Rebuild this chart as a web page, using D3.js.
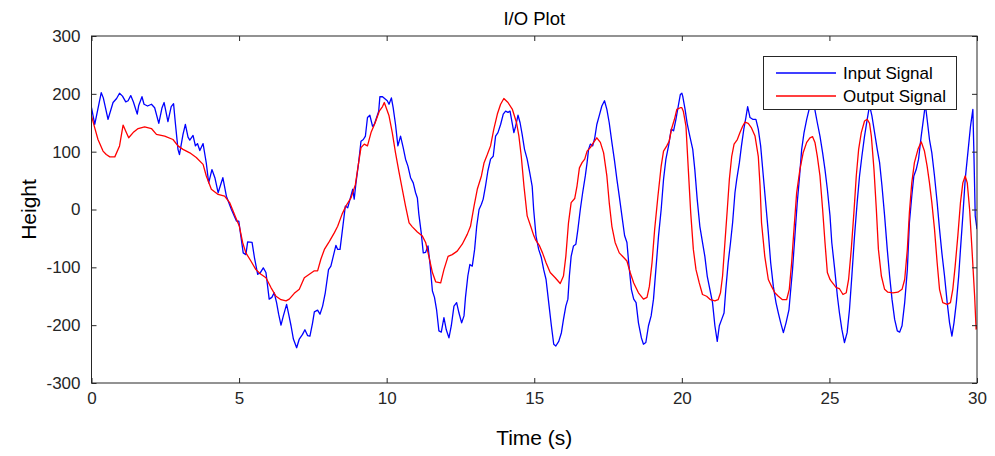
<!DOCTYPE html>
<html>
<head>
<meta charset="utf-8">
<script src="https://cdn.jsdelivr.net/npm/d3@7"></script>
<style>
  html, body { margin: 0; padding: 0; background: #fff; }
  svg { display: block; }
  text { font-family: "Liberation Sans", Arial, Helvetica, sans-serif; }
</style>
</head>
<body>
<svg id="chart" width="995" height="456"></svg>
<script>
// ---------------- data ----------------
const title = "I/O Plot";
const xLabel = "Time (s)";
const yLabel = "Height";
const xTicks = [0, 5, 10, 15, 20, 25, 30];
const yTicks = [-300, -200, -100, 0, 100, 200, 300];
const seriesNames = ["Input Signal", "Output Signal"];

const inputTime = [
0.00,0.11,0.33,0.40,0.56,0.73,0.85,0.95,1.05,1.16,1.24,1.33,1.42,1.55,1.60,1.71,1.78,1.90,2.03,2.14,2.28,2.39,2.46,2.59,2.70,2.78,2.84,2.93,2.98,3.10,3.18,3.27,3.33,3.44,3.52,3.59,3.67,3.78,3.89,3.97,4.08,4.18,4.29,4.45,4.57,4.74,4.91,
4.99,5.06,5.14,5.23,5.29,5.44,5.52,5.63,5.71,5.82,5.91,6.02,6.11,6.19,6.27,6.34,6.42,6.50,6.61,6.68,6.76,6.84,6.95,7.04,7.15,7.23,7.32,7.40,7.49,7.55,7.66,7.74,7.83,7.92,8.03,8.11,8.19,8.28,8.34,8.42,8.49,8.60,8.68,8.76,8.85,8.90,8.96,9.05,9.13,9.21,9.28,9.35,9.43,9.52,9.58,9.64,9.73,9.77,9.86,9.95,
10.02,10.08,10.16,10.22,10.30,10.38,10.47,10.56,10.64,10.72,10.81,10.90,10.98,11.04,11.09,11.17,11.24,11.32,11.40,11.47,11.55,11.62,11.69,11.77,11.85,11.94,12.02,12.11,12.19,12.28,12.37,12.45,12.54,12.62,12.67,12.75,12.82,12.90,12.98,13.05,13.13,13.21,13.27,13.35,13.43,13.52,13.61,13.69,13.77,13.86,13.95,14.03,14.11,14.18,14.26,14.31,14.37,14.45,14.52,14.59,14.67,14.76,14.85,14.93,
14.98,15.06,15.15,15.24,15.32,15.40,15.49,15.58,15.66,15.73,15.83,15.92,15.99,16.07,16.14,16.19,16.25,16.33,16.41,16.48,16.56,16.64,16.73,16.79,16.84,16.90,16.98,17.05,17.12,17.20,17.29,17.38,17.46,17.54,17.63,17.72,17.80,17.88,17.97,18.06,18.14,18.20,18.29,18.37,18.45,18.53,18.63,18.70,18.78,18.87,18.96,19.04,19.12,19.21,19.30,19.38,19.46,19.55,19.64,19.72,19.80,19.87,19.95,20.00,
20.03,20.11,20.18,20.27,20.37,20.44,20.52,20.61,20.70,20.78,20.86,20.95,21.04,21.12,21.20,21.27,21.35,21.43,21.49,21.57,21.65,21.72,21.80,21.86,21.95,22.02,22.10,22.17,22.23,22.31,22.40,22.51,22.59,22.67,22.76,22.85,22.93,23.01,23.10,23.19,23.27,23.35,23.44,23.53,23.63,23.68,23.75,23.83,23.91,23.98,24.06,24.14,24.23,24.32,24.40,24.51,24.59,24.68,24.77,24.85,24.93,25.02,
25.08,25.18,25.27,25.34,25.42,25.51,25.60,25.68,25.76,25.85,25.94,26.02,26.10,26.19,26.28,26.36,26.44,26.53,26.62,26.70,26.78,26.87,26.96,27.04,27.12,27.21,27.30,27.38,27.46,27.55,27.64,27.71,27.79,27.86,27.94,28.02,28.11,28.20,28.25,28.31,28.39,28.47,28.56,28.65,28.73,28.81,28.90,28.99,29.07,29.15,29.22,29.30,29.38,29.44,29.52,29.60,29.69,29.78,29.86,29.89,29.94,30.00
];
const inputValue = [
176,147,202,193,156,185,192,201,196,186,188,197,186,165,180,195,182,179,182,176,149,176,185,152,178,183,150,104,95,130,147,125,120,128,110,114,102,114,80,46,69,55,29,55,23,0,-20,
-20,-46,-75,-78,-56,-57,-83,-112,-110,-101,-109,-155,-152,-144,-161,-181,-200,-184,-164,-181,-201,-224,-239,-224,-216,-208,-218,-219,-196,-177,-174,-181,-167,-144,-104,-98,-81,-62,-69,-69,-40,6,3,18,35,18,46,81,118,121,127,159,163,144,147,156,170,195,195,191,
188,182,193,176,147,110,127,107,87,75,55,46,29,20,-8,-40,-75,-74,-63,-95,-141,-152,-173,-210,-212,-187,-208,-222,-201,-167,-161,-179,-196,-184,-152,-115,-95,-98,-69,-29,0,9,18,41,67,87,92,127,133,147,165,170,168,170,147,133,144,163,150,130,104,87,63,40,
0,-46,-69,-83,-104,-121,-161,-201,-233,-236,-228,-213,-190,-167,-155,-115,-81,-63,-60,-34,0,29,58,81,104,113,110,124,147,162,179,188,173,150,116,84,52,23,-11,-45,-57,-92,-138,-155,-161,-196,-222,-233,-230,-201,-184,-155,-104,-46,0,52,87,110,139,136,156,176,199,201,
196,173,149,127,104,69,18,-29,-57,-81,-115,-138,-161,-201,-228,-201,-190,-179,-138,-92,-57,-23,29,52,81,110,139,159,178,159,156,156,139,110,58,6,-40,-92,-133,-161,-179,-196,-213,-196,-173,-144,-104,-46,12,52,104,133,156,175,182,172,150,127,98,69,35,-11,
-57,-104,-150,-179,-207,-230,-213,-173,-115,-46,12,58,92,127,156,180,162,133,104,81,41,-11,-69,-115,-155,-190,-210,-212,-201,-161,-104,-23,23,58,69,87,127,162,182,156,121,98,58,12,-34,-75,-115,-161,-196,-219,-196,-161,-115,-69,-11,52,98,144,173,110,-11,-34
];

const outputTime = [
0.00,0.11,0.22,0.39,0.50,0.62,0.79,0.95,1.07,1.18,1.26,1.41,1.58,1.80,2.03,2.20,2.48,2.76,2.93,3.10,3.33,3.55,3.78,3.89,4.06,4.29,4.51,4.68,4.91,
5.01,5.12,5.23,5.40,5.57,5.74,5.91,6.08,6.25,6.42,6.59,6.70,6.87,7.04,7.21,7.38,7.55,7.66,7.77,7.89,8.06,8.23,8.34,8.49,8.62,8.79,8.94,9.05,9.13,9.24,9.35,9.47,9.61,9.75,9.86,9.92,
10.08,10.19,10.30,10.42,10.53,10.64,10.76,10.87,11.04,11.21,11.32,11.43,11.55,11.66,11.83,11.94,12.08,12.22,12.39,12.56,12.73,12.84,12.96,13.07,13.21,13.30,13.41,13.52,13.63,13.75,13.86,13.97,14.11,14.26,14.40,14.48,14.56,14.65,14.76,14.88,14.99,
15.04,15.17,15.28,15.40,15.54,15.71,15.88,15.99,16.07,16.16,16.25,16.37,16.45,16.53,16.62,16.71,16.79,16.90,17.01,17.12,17.24,17.35,17.46,17.54,17.63,17.74,17.88,18.03,18.14,18.25,18.37,18.53,18.70,18.82,18.90,18.99,19.08,19.19,19.30,19.38,19.49,19.57,19.66,19.75,19.83,19.95,20.00,
20.05,20.14,20.22,20.30,20.39,20.48,20.59,20.70,20.84,20.97,21.12,21.23,21.31,21.38,21.46,21.54,21.61,21.69,21.77,21.88,21.97,22.06,22.14,22.25,22.36,22.48,22.59,22.65,22.70,22.81,22.93,23.04,23.15,23.27,23.41,23.55,23.64,23.72,23.80,23.89,24.00,24.11,24.23,24.34,24.43,24.51,24.59,24.68,24.77,24.85,24.93,25.02,
25.06,25.23,25.34,25.46,25.57,25.65,25.74,25.83,25.91,25.99,26.08,26.19,26.28,26.36,26.42,26.51,26.59,26.66,26.76,26.87,26.98,27.15,27.32,27.46,27.55,27.64,27.71,27.79,27.88,28.00,28.11,28.22,28.31,28.39,28.47,28.56,28.65,28.73,28.84,28.99,29.10,29.18,29.26,29.35,29.44,29.52,29.60,29.67,29.75,29.83,29.92,29.97,30.00
];
const outputValue = [
162,141,121,101,95,91,91,110,146,133,124,133,140,143,140,130,127,121,110,104,98,90,78,58,35,26,23,12,-17,
-29,-57,-75,-89,-104,-112,-118,-135,-150,-156,-158,-155,-145,-138,-118,-112,-106,-106,-86,-69,-55,-40,-29,-8,6,20,43,81,107,113,110,133,150,170,178,185,
162,133,98,64,35,6,-23,-30,-39,-46,-57,-81,-109,-125,-127,-104,-81,-78,-72,-60,-43,-29,6,35,58,81,95,110,139,165,182,192,185,173,150,127,92,41,-11,-29,-46,
-52,-62,-75,-92,-109,-118,-128,-115,-81,-23,12,19,41,72,81,87,101,107,116,124,116,98,58,12,-29,-57,-75,-83,-89,-109,-127,-144,-155,-152,-133,-92,-34,23,75,101,110,118,141,156,173,176,176,
170,144,69,-5,-69,-104,-127,-147,-150,-156,-158,-156,-144,-115,-57,0,52,92,113,121,133,144,151,149,141,127,92,41,-23,-81,-121,-133,-144,-150,-156,-156,-138,-92,-34,29,69,98,116,124,126,116,92,58,0,-57,-109,-121,
-124,-135,-137,-147,-144,-121,-69,-5,58,104,133,153,156,149,127,69,0,-69,-115,-138,-143,-144,-143,-138,-121,-69,-5,46,81,104,117,101,75,46,12,-34,-92,-138,-161,-164,-161,-138,-98,-46,12,46,58,46,0,-69,-150,-207,-200
];

// ---------------- layout ----------------
const plot = { left: 91.5, right: 977, top: 36, bottom: 383 };
const axisColor = "#262626";
const colors = ["#0000ff", "#ff0000"];
const fmt = d => String(d); // hyphen-minus like the reference

const svg = d3.select("#chart");

const x = d3.scaleLinear().domain([0, 30]).range([plot.left, plot.right]);
const y = d3.scaleLinear().domain([-300, 300]).range([plot.bottom, plot.top]);

svg.append("defs").append("clipPath").attr("id", "clip")
  .append("rect")
  .attr("x", plot.left).attr("y", plot.top)
  .attr("width", plot.right - plot.left).attr("height", plot.bottom - plot.top);

svg.append("rect")
  .attr("x", plot.left).attr("y", plot.top)
  .attr("width", plot.right - plot.left).attr("height", plot.bottom - plot.top)
  .attr("fill", "#fff");

const series = [
  { name: seriesNames[0], data: inputTime.map((t, i) => ({ t, v: inputValue[i] })), color: colors[0] },
  { name: seriesNames[1], data: outputTime.map((t, i) => ({ t, v: outputValue[i] })), color: colors[1] }
];

const line = d3.line().x(d => x(d.t)).y(d => y(d.v));

const lines = svg.append("g").attr("clip-path", "url(#clip)");
series.forEach(s => {
  lines.append("path")
    .datum(s.data)
    .attr("d", line)
    .attr("fill", "none")
    .attr("stroke", s.color)
    .attr("stroke-width", 1.3)
    .attr("stroke-linejoin", "round");
});

function styleAxis(g) {
  g.select(".domain").remove();
  g.selectAll(".tick line").attr("stroke", axisColor).attr("stroke-width", 1);
  g.selectAll(".tick text").attr("fill", axisColor)
    .style("font-family", "'Liberation Sans', Arial, sans-serif")
    .style("font-size", "17px");
}

svg.append("g")
  .attr("transform", `translate(0,${plot.bottom})`)
  .call(d3.axisBottom(x).tickValues(xTicks).tickFormat(fmt).tickSizeInner(-5).tickSizeOuter(0).tickPadding(9))
  .call(styleAxis);

svg.append("g")
  .attr("transform", `translate(0,${plot.top})`)
  .call(d3.axisTop(x).tickValues(xTicks).tickFormat("").tickSizeInner(-5).tickSizeOuter(0))
  .call(styleAxis);

svg.append("g")
  .attr("transform", `translate(${plot.left},0)`)
  .call(d3.axisLeft(y).tickValues(yTicks).tickFormat(fmt).tickSizeInner(-5).tickSizeOuter(0).tickPadding(11))
  .call(styleAxis);

svg.append("g")
  .attr("transform", `translate(${plot.right},0)`)
  .call(d3.axisRight(y).tickValues(yTicks).tickFormat("").tickSizeInner(-5).tickSizeOuter(0))
  .call(styleAxis);

svg.append("rect")
  .attr("x", plot.left).attr("y", plot.top)
  .attr("width", plot.right - plot.left).attr("height", plot.bottom - plot.top)
  .attr("fill", "none").attr("stroke", axisColor).attr("stroke-width", 1);

svg.append("text")
  .attr("x", (plot.left + plot.right) / 2).attr("y", 25)
  .attr("text-anchor", "middle")
  .attr("fill", "#000")
  .style("font-size", "18.5px")
  .text(title);

svg.append("text")
  .attr("x", (plot.left + plot.right) / 2).attr("y", 445)
  .attr("text-anchor", "middle")
  .attr("fill", "#000")
  .style("font-size", "21px")
  .text(xLabel);

svg.append("text")
  .attr("transform", `translate(36,${(plot.top + plot.bottom) / 2}) rotate(-90)`)
  .attr("text-anchor", "middle")
  .attr("fill", "#000")
  .style("font-size", "21px")
  .text(yLabel);

const leg = svg.append("g");
leg.append("rect")
  .attr("x", 763.5).attr("y", 56.5).attr("width", 193).attr("height", 53)
  .attr("fill", "#fff").attr("stroke", axisColor).attr("stroke-width", 1);
series.forEach((s, i) => {
  const ly = 73 + i * 23;
  leg.append("line")
    .attr("x1", 776).attr("x2", 836).attr("y1", ly).attr("y2", ly)
    .attr("stroke", s.color).attr("stroke-width", 1.3);
  leg.append("text")
    .attr("x", 843).attr("y", ly).attr("dy", "0.35em")
    .attr("fill", "#000")
    .style("font-size", "17px")
    .text(s.name);
});
</script>
</body>
</html>
